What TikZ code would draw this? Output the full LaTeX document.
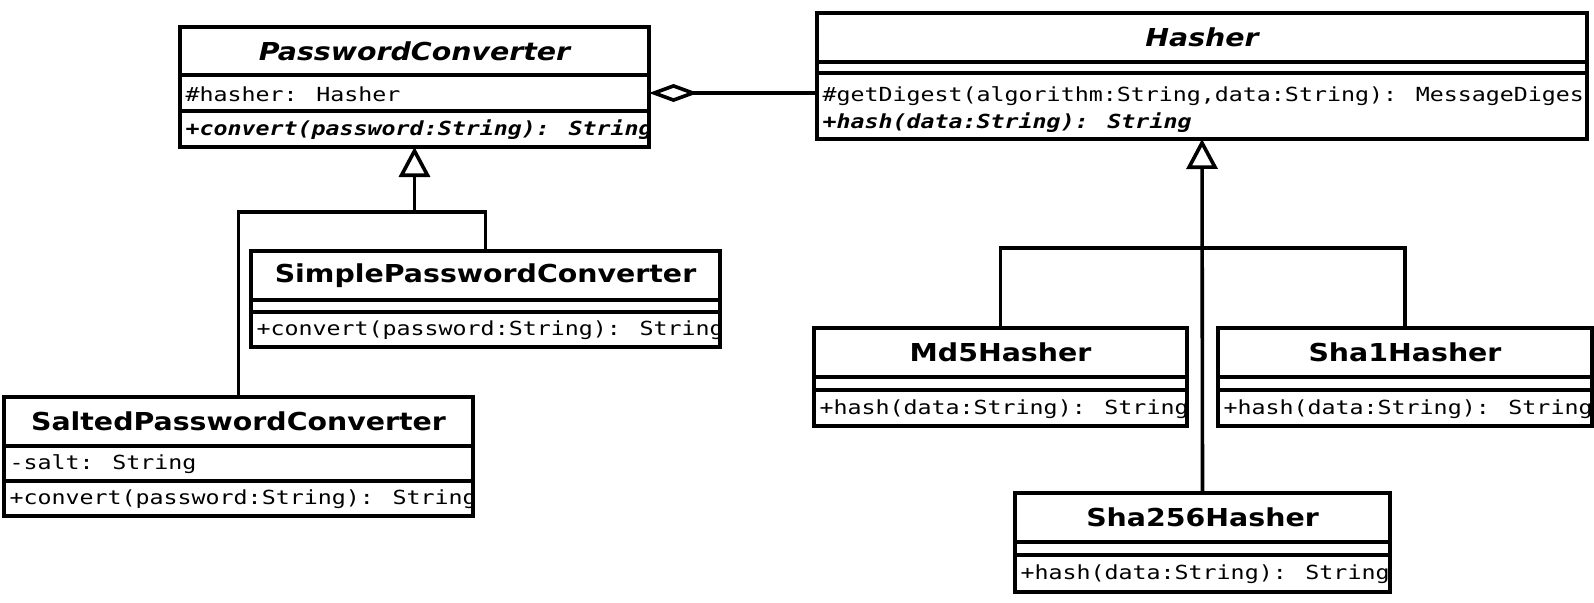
\documentclass[tikz,border=0pt]{standalone}
\usepackage{fontspec}
\setmainfont{DejaVu Sans}[FakeStretch=1.15]
\newfontfamily\umlmono{DejaVu Sans Mono}[FakeStretch=1.2]
\usetikzlibrary{positioning,arrows.meta}
\newcommand\clsfont{\fontsize{24.7}{30}\selectfont\bfseries}
\newcommand\membfont{\umlmono\fontsize{19.4}{27}\selectfont}

\begin{document}
\begin{tikzpicture}[x=1pt, y=-1pt,
    clsname/.style={draw, line width=3.6pt, inner sep=0pt, outer sep=0pt, anchor=north west,
      minimum width=#1, minimum height=49pt, font=\clsfont},
    compart/.style={draw, line width=3.6pt, inner sep=0pt, outer sep=0pt, minimum width=#1},
    membdy/.store in=\membdy, membdy=-1pt,
    memb/.style={path picture={\node[draw=none, minimum width=0pt, minimum height=0pt,
      anchor=west, inner sep=0pt, align=left, font=\membfont]
      at ([xshift=5.5pt, yshift=\membdy]path picture bounding box.west) {#1};}},
    link/.style={line width=3.6pt},
    inherit/.style={link, -{Triangle[open, length=30pt, width=31pt]}},
    agg/.style={link, {Diamond[open, length=49pt, width=18pt]}-}]
  \useasboundingbox (0,0) rectangle (1594,602);

  % abstract converter
  \node[clsname=469pt, minimum height=48pt] (pc) at (180,27) {\itshape PasswordConverter};
  \node[compart=469pt, minimum height=36pt, below=0pt of pc, memb={\#hasher: Hasher}] (pcattr) {};
  \node[compart=469pt, minimum height=36pt, below=0pt of pcattr,
    memb={\bfseries\itshape +convert(password:String): String}] (pcops) {};

  % converters
  \node[clsname=469pt] (simple) at (251,251) {SimplePasswordConverter};
  \node[compart=469pt, minimum height=12pt, below=0pt of simple] (simpleattr) {};
  \node[compart=469pt, minimum height=35pt, below=0pt of simpleattr,
    memb={+convert(password:String): String}] (simpleops) {};

  \node[clsname=469pt] (salted) at (4,397) {SaltedPasswordConverter};
  \node[compart=469pt, minimum height=35pt, below=0pt of salted, memb={-salt: String}] (saltedattr) {};
  \node[compart=469pt, minimum height=35pt, below=0pt of saltedattr,
    memb={+convert(password:String): String}] (saltedops) {};

  % abstract hasher
  \node[clsname=770pt] (hasher) at (817,13) {\itshape Hasher};
  \node[compart=770pt, minimum height=11pt, below=0pt of hasher] (hashattr) {};
  \node[compart=770pt, minimum height=66pt, below=0pt of hashattr, membdy=-3.5pt,
    memb={\#getDigest(algorithm:String,data:String): MessageDigest\\
      \bfseries\itshape +hash(data:String): String}] (hashops) {};

  % hashers
  \node[clsname=373pt] (md5) at (814,328) {Md5Hasher};
  \node[compart=373pt, minimum height=13pt, below=0pt of md5] (md5attr) {};
  \node[compart=373pt, minimum height=36pt, below=0pt of md5attr,
    memb={+hash(data:String): String}] (md5ops) {};

  \node[clsname=374pt] (sha1) at (1218,328) {Sha1Hasher};
  \node[compart=374pt, minimum height=13pt, below=0pt of sha1] (sha1attr) {};
  \node[compart=374pt, minimum height=36pt, below=0pt of sha1attr,
    memb={+hash(data:String): String}] (sha1ops) {};

  \node[clsname=375pt] (sha256) at (1015,493) {Sha256Hasher};
  \node[compart=375pt, minimum height=13pt, below=0pt of sha256] (sha256attr) {};
  \node[compart=375pt, minimum height=37pt, below=0pt of sha256attr,
    memb={+hash(data:String): String}] (sha256ops) {};

  % relations
  \draw[agg] (pcattr.east) -- (pcattr.east -| hasher.west);

  \path (pcops.south) ++(0,65) coordinate (pcjoin);
  \draw[link] (salted.north) |- (pcjoin) -| (simple.north);
  \draw[inherit] (pcjoin) -- (pcops.south);

  \path (hashops.south) ++(0,109) coordinate (hjoin);
  \draw[link] (md5.north) |- (hjoin) -| (sha1.north);
  \draw[inherit] (sha256.north) -- (hashops.south);
\end{tikzpicture}
\end{document}
